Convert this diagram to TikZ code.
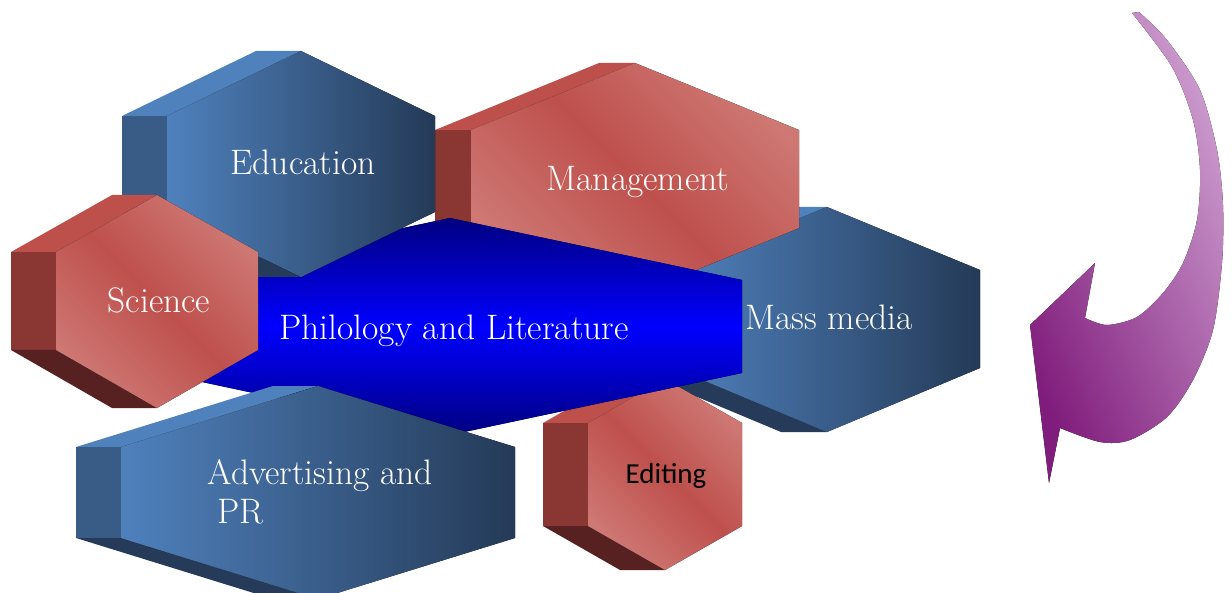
\documentclass[tikz,border=0pt]{standalone}
\usepackage{fontspec}
\usepackage{tikz}
\newfontfamily\editfont{Carlito}

\definecolor{bluelight}{RGB}{79,129,189}
\definecolor{bluedark}{RGB}{36,58,87}
\definecolor{blueside}{RGB}{57,92,135}
\definecolor{bluelow}{RGB}{37,59,89}
\definecolor{redmid}{RGB}{190,80,76}
\definecolor{redlight}{RGB}{206,120,116}
\definecolor{redside}{RGB}{138,54,51}
\definecolor{redlow}{RGB}{86,33,32}
\definecolor{philodark}{RGB}{0,0,128}
\definecolor{arrowdark}{RGB}{128,28,124}
\definecolor{arrowlight}{RGB}{204,156,206}

\tikzset{
  bluetop/.style={fill=bluelight},
  blueside/.style={fill=blueside},
  bluelow/.style={fill=bluelow},
  bluefront/.style={left color=bluelight, right color=bluedark},
  redtop/.style={fill=redmid},
  redside/.style={fill=redside},
  redlow/.style={fill=redlow},
  redfront/.style={top color=redlight, bottom color=redlight, middle color=redmid, shading angle=-45},
  philo/.style={top color=philodark, bottom color=philodark, middle color=blue},
  arrowfill/.style={bottom color=arrowdark, top color=arrowlight, shading angle=-65},
  lbl/.style={text=white, inner sep=0pt, font=\fontsize{17.7}{19.5}\selectfont}
}

% #1 colour, #2 centre x, #3 half width, #4 top, #5 upper side, #6 lower side, #7 bottom, #8 depth
\newcommand{\hexprism}[8]{%
  \fill[#1top] ({#2-#8},#4) -- (#2,#4) -- ({#2-#3},#5) -- ({#2-#3-#8},#5) -- cycle;
  \fill[#1side] ({#2-#3-#8},#5) -- ({#2-#3},#5) -- ({#2-#3},#6) -- ({#2-#3-#8},#6) -- cycle;
  \fill[#1low] ({#2-#3-#8},#6) -- ({#2-#3},#6) -- (#2,#7) -- ({#2-#8},#7) -- cycle;
  \fill[#1front] (#2,#4) -- ({#2+#3},#5) -- ({#2+#3},#6) -- (#2,#7) -- ({#2-#3},#6) -- ({#2-#3},#5) -- cycle;
}

\begin{document}
\begin{tikzpicture}[x=0.5pt,y=-0.5pt]
    \useasboundingbox (0,0) rectangle (1232,593);
    % prisms, back to front
    \hexprism{blue}{827}{153}{207}{270}{368}{432}{46}
    \hexprism{red}{635}{164}{63}{130}{228}{295}{36}
    \hexprism{red}{665}{77}{379}{423}{526}{570}{45}
    \fill[philo] (450,218) -- (742,280) -- (742,373) -- (450,435) -- (160,373) -- (160,280) -- cycle;
    \hexprism{blue}{301}{134}{51}{116}{212}{277}{45}
    \hexprism{red}{157}{101}{195}{252}{350}{408}{45}
    \hexprism{blue}{318}{197}{386}{447}{538}{599}{45}

    \node[lbl, anchor=base] (manage) at (638,191) {Management};
    \node[lbl, anchor=base] (media) at (829,329) {Mass media};
    \node[anchor=base, inner sep=0pt, font=\editfont\fontsize{14.5}{17}\selectfont] (edit) at (666,483) {Editing};
    \node[lbl, anchor=base] (philology) at (454,340) {Philology and Literature};
    \node[lbl, anchor=base] (edu) at (303,175) {Education};
    \node[lbl, anchor=base] (science) at (159,313) {Science};
    \node[lbl, anchor=west, align=left] (adv) at (207,491.5) {Advertising and\\\hspace*{5pt}PR};

    % curved arrow
    \fill[arrowfill] (1132,13) -- (1139,12)
        -- plot[smooth] coordinates {(1139,12) (1167,40) (1200,90) (1217,150) (1223,205) (1222,263) (1213,330) (1193,380) (1167,417) (1130,440) (1100,442) (1060,428)}
        -- (1049,483) -- (1030,325) -- (1095,263) -- (1085,318)
        -- plot[smooth] coordinates {(1085,318) (1107,325) (1137,317) (1163,293) (1183,263) (1197,220) (1200,170) (1193,120) (1172,67) (1132,13)}
        -- cycle;
\end{tikzpicture}
\end{document}
